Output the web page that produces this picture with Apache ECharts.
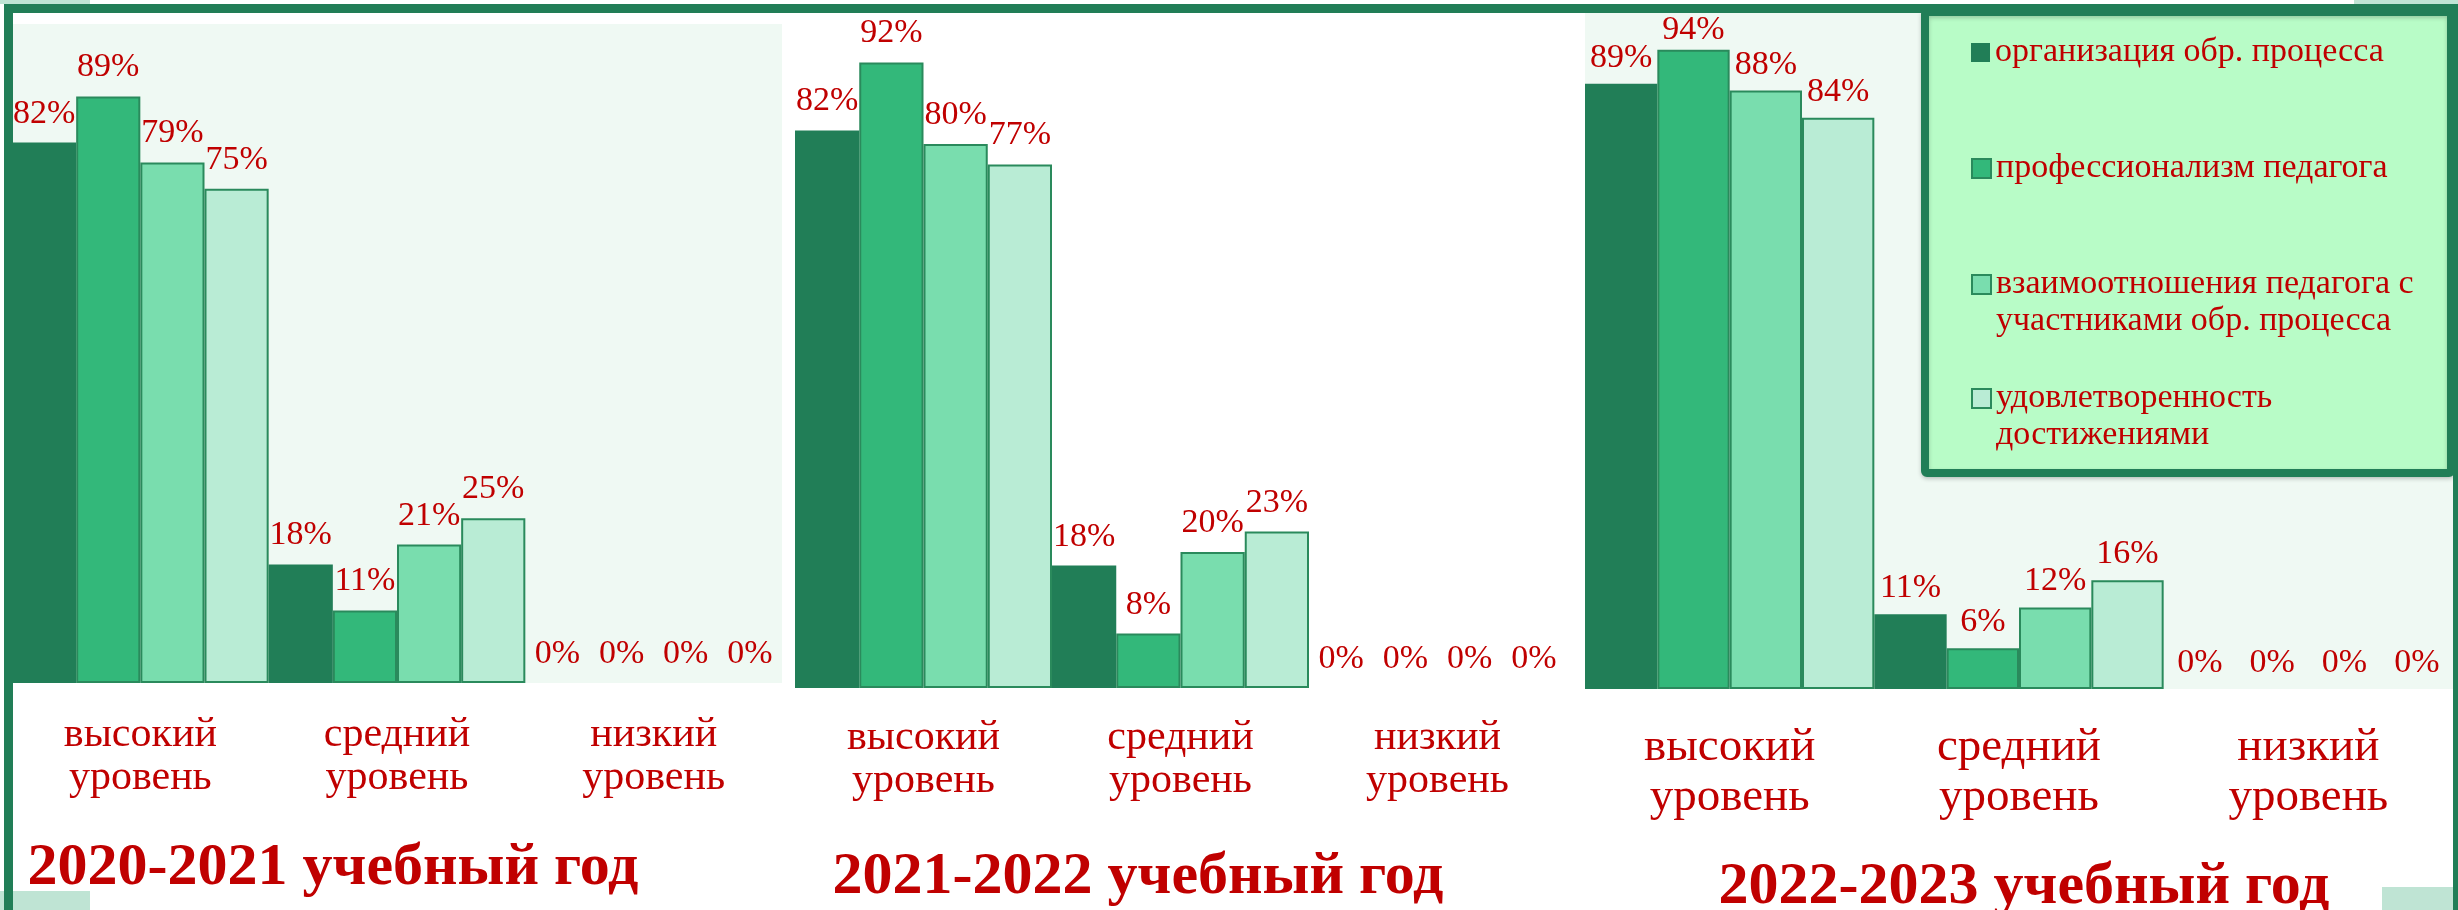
<!DOCTYPE html>
<html>
<head>
<meta charset="utf-8">
<script src="https://cdn.jsdelivr.net/npm/echarts@6/dist/echarts.min.js"></script>
<style>
  html, body { margin: 0; padding: 0; background: #fff; }
  #chart { width: 2458px; height: 910px; }
</style>
</head>
<body>
<div id="chart"></div>
<script>
// категории и подписи
const levels = ['высокий\nуровень', 'средний\nуровень', 'низкий\nуровень'];
const years = ['2020-2021 учебный год', '2021-2022 учебный год', '2022-2023 учебный год'];
const seriesNames = [
  'организация обр. процесса',
  'профессионализм педагога',
  'взаимоотношения педагога с участниками обр. процесса',
  'удовлетворенность достижениями'
];
const legendText = [
  'организация обр. процесса',
  'профессионализм педагога',
  'взаимоотношения педагога с\nучастниками обр. процесса',
  'удовлетворенность\nдостижениями'
];

// значения, % (по сериям: высокий, средний, низкий)
const data2020 = [[82, 18, 0], [89, 11, 0], [79, 21, 0], [75, 25, 0]];
const data2021 = [[82, 18, 0], [92, 8, 0], [80, 20, 0], [77, 23, 0]];
const data2022 = [[89, 11, 0], [94, 6, 0], [88, 12, 0], [84, 16, 0]];
const yearData = [data2020, data2021, data2022];

const colors = ['#217e57', '#33b87a', '#79ddae', '#b9ecd5'];
const red = '#c00000';
const serif = 'Liberation Serif';
const frame = '#217e57';

const chart = echarts.init(document.getElementById('chart'));

const grids = [
  { left: 12, top: 24, width: 770, height: 659, show: true, backgroundColor: '#eff9f3', borderWidth: 0 },
  { left: 795, top: 8, width: 771, height: 680, show: false },
  { left: 1585, top: 9, width: 868, height: 680, show: true, backgroundColor: '#eff9f3', borderWidth: 0 }
];
const catFont = [{ size: 42, lh: 43, margin: 30 }, { size: 42, lh: 43, margin: 28 }, { size: 47, lh: 50, margin: 34 }];
const labelGap = [12, 12, 9];
const titleCenters = [333, 1138, 2024];
const titleTops = [838, 847, 857];

const series = [];
yearData.forEach((rows, g) => {
  rows.forEach((vals, s) => {
    series.push({
      type: 'bar',
      name: seriesNames[s],
      xAxisIndex: g,
      yAxisIndex: g,
      barGap: '0%',
      barCategoryGap: '0%',
      data: vals.map(v => ({ value: v, itemStyle: v === 0 ? { borderWidth: 0 } : {} })),
      itemStyle: {
        color: colors[s],
        borderColor: s === 0 ? colors[0] : '#2a8a5c',
        borderWidth: s === 0 ? 0 : 2
      },
      label: {
        show: true,
        position: 'top',
        distance: labelGap[g],
        formatter: '{c}%',
        color: red,
        fontFamily: serif,
        fontSize: 34
      },
      // подписи не заходят под верхнюю рамку
      labelLayout: p => {
        const bottom = p.labelRect.y + p.labelRect.height;
        return bottom < 47 ? { dy: 47 - bottom } : {};
      }
    });
  });
});

const legendTops = [34, 150, 229, 343];
const legends = seriesNames.map((name, i) => ({
  data: [name],
  left: 1971,
  top: legendTops[i],
  padding: 0,
  icon: 'rect',
  itemWidth: 19,
  itemHeight: 19,
  selectedMode: false,
  formatter: () => (legendText[i].indexOf('\n') >= 0 ? '\n' : '') + legendText[i],
  textStyle: { color: red, fontFamily: serif, fontSize: 34, lineHeight: 37 }
}));

chart.setOption({
  animation: false,
  title: years.map((t, i) => ({
    text: t,
    left: titleCenters[i],
    top: titleTops[i],
    padding: 0,
    textAlign: 'center',
    textStyle: { color: red, fontFamily: serif, fontWeight: 'bold', fontSize: 60, lineHeight: 60 }
  })),
  legend: legends,
  grid: grids,
  xAxis: grids.map((_, i) => ({
    type: 'category',
    gridIndex: i,
    data: levels,
    axisLine: { show: false },
    axisTick: { show: false },
    axisLabel: {
      interval: 0,
      color: red,
      fontFamily: serif,
      fontSize: catFont[i].size,
      lineHeight: catFont[i].lh,
      margin: catFont[i].margin
    }
  })),
  yAxis: grids.map((_, i) => ({ type: 'value', gridIndex: i, min: 0, max: 100, show: false })),
  series: series,
  graphic: [
    // рамка легенды
    { type: 'rect', z: 1, shape: { x: 1925, y: 12, width: 526, height: 461, r: 2 },
      style: { fill: '#b8fcc7', stroke: frame, lineWidth: 8, shadowBlur: 4, shadowColor: 'rgba(0,0,0,0.2)', shadowOffsetY: 2 } },
    // рамка слайда
    { type: 'rect', z: 100, shape: { x: 0, y: 0, width: 90, height: 4 }, style: { fill: '#bfe4d4' } },
    { type: 'rect', z: 100, shape: { x: 2354, y: 0, width: 104, height: 4 }, style: { fill: '#bfe4d4' } },
    { type: 'rect', z: 100, shape: { x: 0, y: 891, width: 90, height: 19 }, style: { fill: '#bfe4d4' } },
    { type: 'rect', z: 100, shape: { x: 2382, y: 887, width: 72, height: 23 }, style: { fill: '#bfe4d4' } },
    { type: 'rect', z: 101, shape: { x: 4, y: 4, width: 2454, height: 9 }, style: { fill: frame } },
    { type: 'rect', z: 101, shape: { x: 4, y: 4, width: 9, height: 906 }, style: { fill: frame } },
    { type: 'rect', z: 101, shape: { x: 2453, y: 4, width: 5, height: 906 }, style: { fill: frame } }
  ]
});
</script>
</body>
</html>
